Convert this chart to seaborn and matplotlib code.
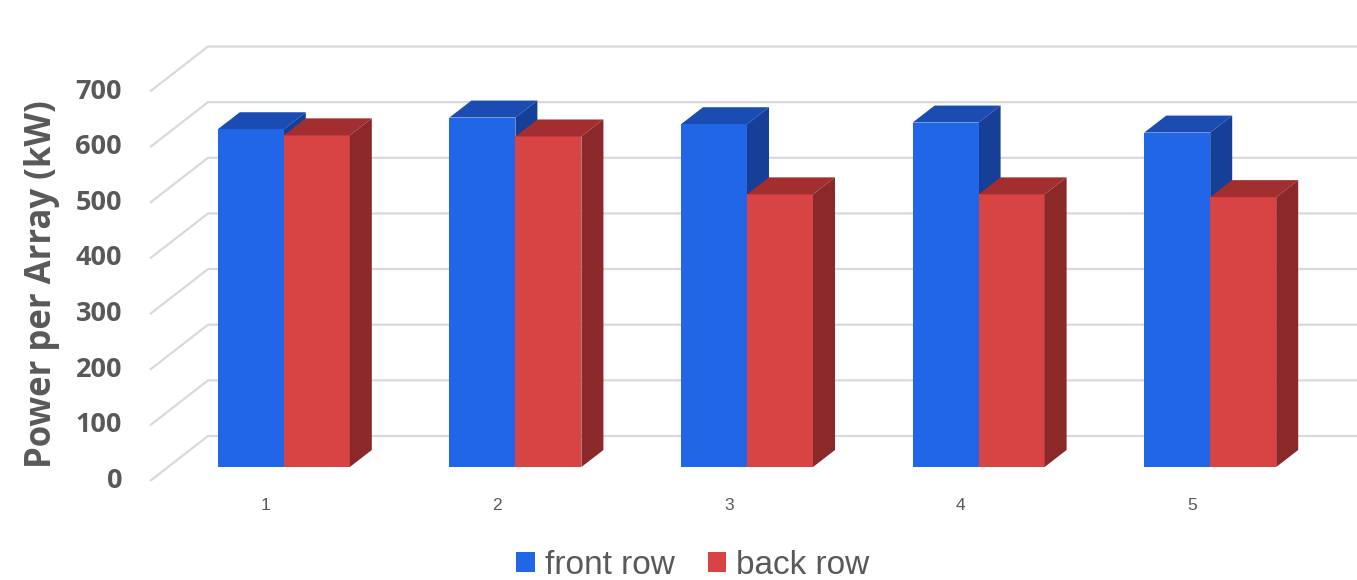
import numpy as np
import pandas as pd
import matplotlib
matplotlib.use('Agg')
import matplotlib.pyplot as plt
import seaborn as sns
from matplotlib.patches import Polygon, Patch
from matplotlib.transforms import ScaledTranslation

# data
positions = ['1', '2', '3', '4', '5']
front_row = [607, 628, 616, 619, 601]
back_row = [596, 594, 490, 490, 485]
series = ['front row', 'back row']
y_ticks = [0, 100, 200, 300, 400, 500, 600, 700]

df = pd.DataFrame({
    'position': positions * 2,
    'row': [series[0]] * len(front_row) + [series[1]] * len(back_row),
    'power': front_row + back_row,
})

blue, blue_top, blue_side = '#2266e8', '#1b4cb1', '#163f98'
red, red_top, red_side = '#d84343', '#a32e30', '#8a282a'
grey_txt = '#595959'
grid_c = '#d9d9d9'

sns.set_style('white')
plt.rcParams['font.family'] = ['Liberation Sans', 'DejaVu Sans']

W, H = 1357, 580
fig = plt.figure(figsize=(W / 100, H / 100), dpi=100)
# axes = front plane of the bars
ax = fig.add_axes([168 / W, (H - 467) / H, 1158 / W, 389.5 / H])

sns.barplot(data=df, x='position', y='power', hue='row', order=positions,
            hue_order=series, palette=[blue, red], width=0.57, gap=0,
            saturation=1, linewidth=0, legend=False, ax=ax, zorder=2)
ax.set_xlim(-0.5, len(positions) - 0.5)
ax.set_ylim(0, 700)
for s in ax.spines.values():
    s.set_visible(False)
ax.set_xticks([])
ax.set_yticks([])
ax.set_xlabel('')
ax.set_ylabel('')
ax.grid(False)


def shift(x, y, dx, dy):
    # move a data point by some pixels, give data coords back
    p = ax.transData.transform((x, y))
    return ax.transData.inverted().transform((p[0] + dx, p[1] + dy))


def px(dx, dy):
    return ax.transData + ScaledTranslation(dx / 100, dy / 100, fig.dpi_scale_trans)


# floor front (-18,-14), back wall (+40,+31), bar depth (22,17)
x0, x1 = ax.get_xlim()
for v in y_ticks:
    a = shift(x0, v, -18, -14)
    b = shift(x0, v, 40, 31)
    c = shift(x1, v, 80, 31)
    ax.plot([a[0], b[0], c[0]], [a[1], b[1], c[1]], color=grid_c, lw=1.6,
            zorder=0, clip_on=False, solid_capstyle='butt')
    ax.text(x0, v, str(v), transform=px(-46, -14), ha='right', va='center',
            fontsize=19.5, fontweight='bold', color=grey_txt, family='Open Sans')

for i, p in enumerate(positions):
    ax.text(i, 0, p, transform=px(-18, -38), ha='center', va='center',
            fontsize=12.5, color=grey_txt)

dx, dy = 22, 17
for cont, tc, sc, z in [(ax.containers[0], blue_top, blue_side, 1),
                        (ax.containers[1], red_top, red_side, 3)]:
    for bar in cont:
        bx0 = bar.get_x()
        bx1 = bx0 + bar.get_width()
        h = bar.get_height()
        top = [(bx0, h), (bx1, h), shift(bx1, h, dx, dy), shift(bx0, h, dx, dy)]
        side = [(bx1, 0), (bx1, h), shift(bx1, h, dx, dy), shift(bx1, 0, dx, dy)]
        ax.add_patch(Polygon(top, closed=True, fc=tc, ec='none', zorder=z, clip_on=False))
        ax.add_patch(Polygon(side, closed=True, fc=sc, ec='none', zorder=z, clip_on=False))

fig.text(42 / W, 1 - 284 / H, 'Power per Array (kW)', rotation=90, ha='center',
         va='center', fontsize=25, fontweight='bold', color=grey_txt, family='Open Sans')

handles = [Patch(fc=blue, ec='none'), Patch(fc=red, ec='none')]
fig.legend(handles, series, loc='center', bbox_to_anchor=(693 / W, 1 - 565 / H),
           ncol=2, frameon=False, fontsize=24, handlelength=0.55, handleheight=0.55,
           handletextpad=0.3, columnspacing=1.0, labelcolor=grey_txt)

fig.savefig('out.png', dpi=100)
